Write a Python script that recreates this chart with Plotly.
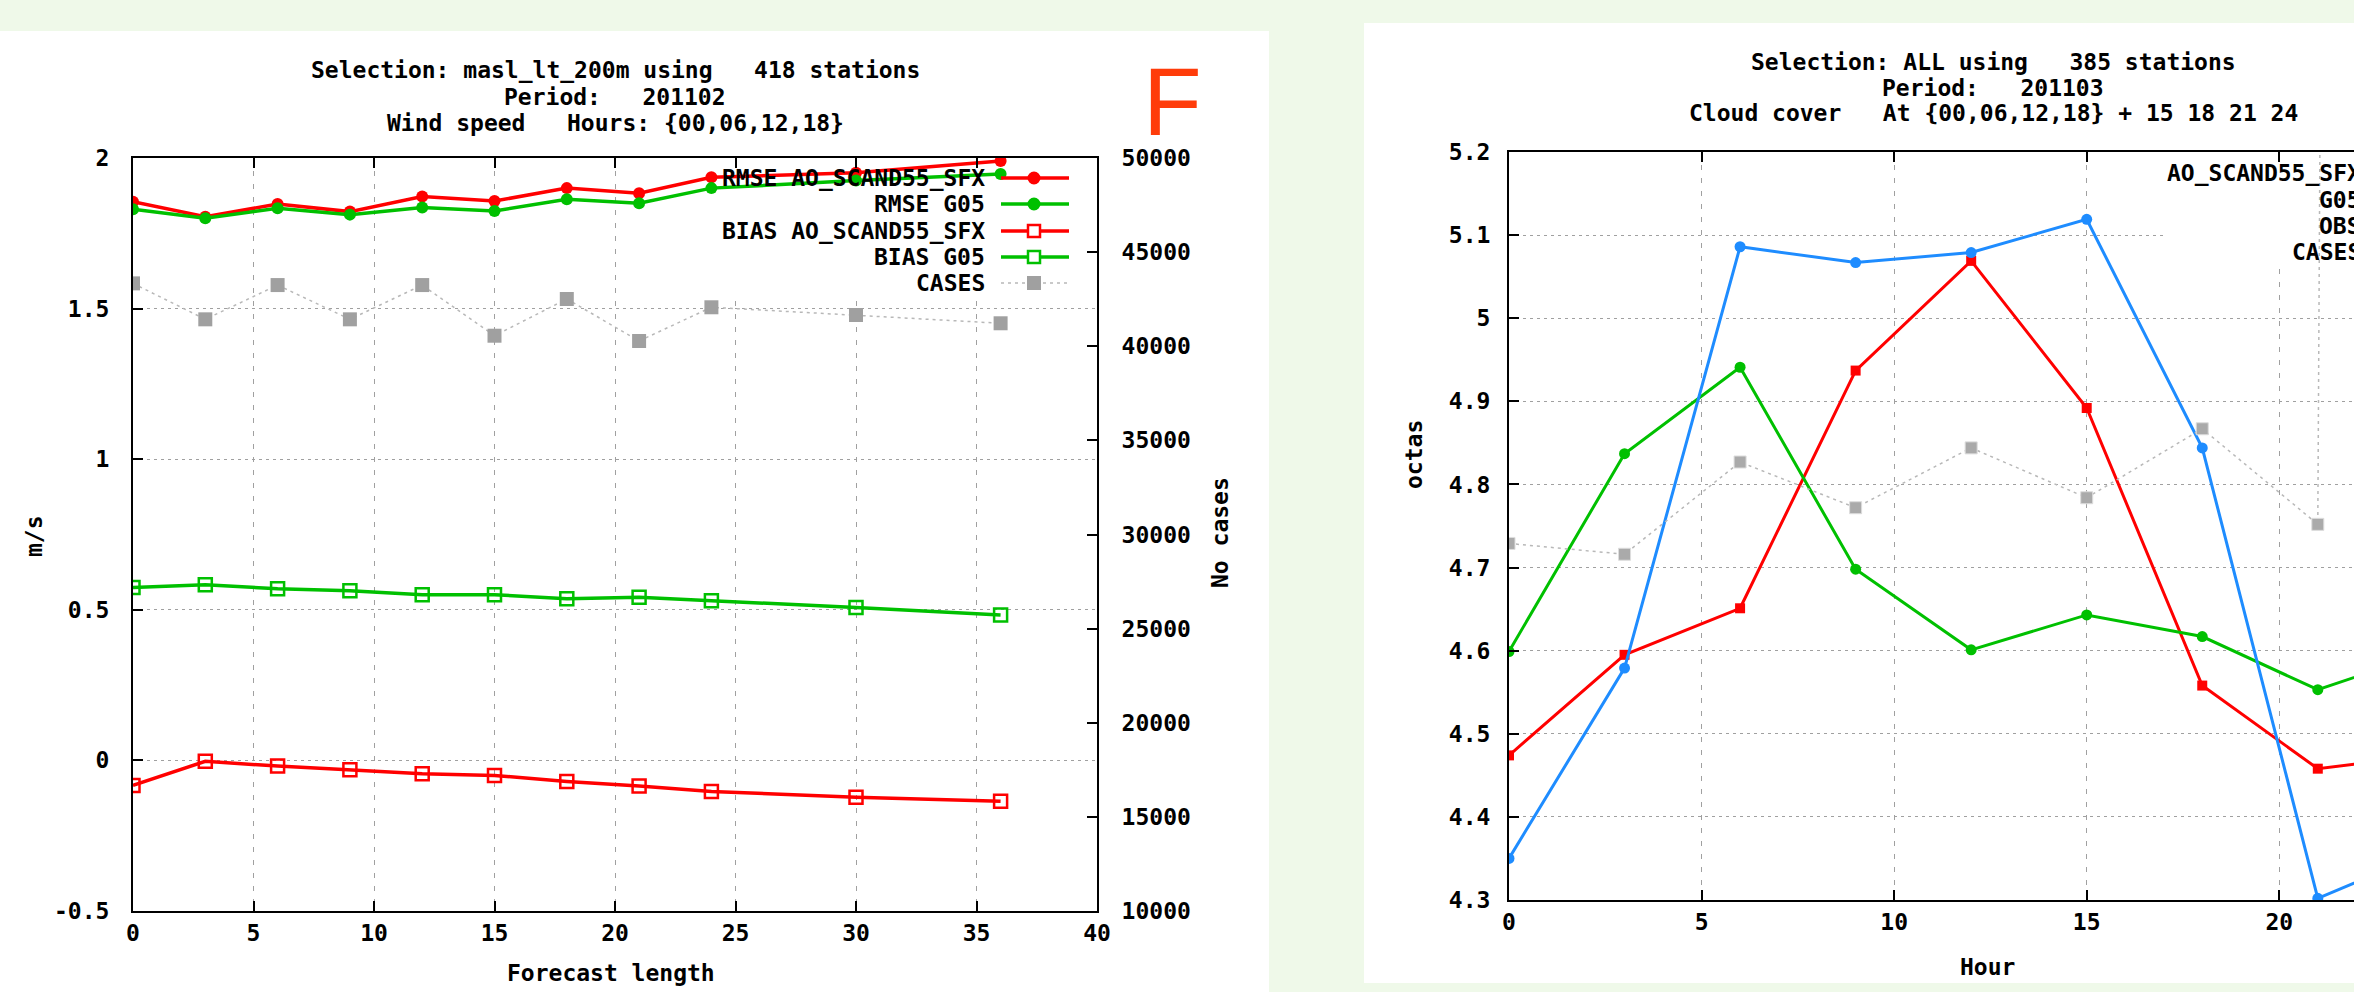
import plotly.graph_objects as go

# ---------------- data: left chart (wind speed vs forecast length) ----------------
lead = [0, 3, 6, 9, 12, 15, 18, 21, 24, 30, 36]
rmse_ao = [1.855, 1.805, 1.847, 1.822, 1.872, 1.857, 1.900, 1.883, 1.936, 1.951, 1.990]
rmse_g05 = [1.830, 1.800, 1.833, 1.812, 1.836, 1.824, 1.863, 1.850, 1.900, 1.925, 1.947]
bias_ao = [-0.083, -0.003, -0.019, -0.031, -0.044, -0.050, -0.070, -0.085, -0.103, -0.122, -0.136]
bias_g05 = [0.574, 0.583, 0.570, 0.563, 0.550, 0.550, 0.537, 0.542, 0.530, 0.508, 0.483]
cases_left = [43340, 41430, 43250, 41430, 43250, 40560, 42510, 40280, 42070, 41660, 41220]

left_names = ["RMSE AO_SCAND55_SFX", "RMSE G05", "BIAS AO_SCAND55_SFX", "BIAS G05", "CASES"]
left_title = ["Selection: masl_lt_200m using   418 stations",
              "Period:   201102",
              "Wind speed   Hours: {00,06,12,18}"]
left_xticks = [0, 5, 10, 15, 20, 25, 30, 35, 40]
left_yticks = [-0.5, 0, 0.5, 1, 1.5, 2]
left_yticklabels = ["-0.5", "0", "0.5", "1", "1.5", "2"]
left_y2ticks = [10000, 15000, 20000, 25000, 30000, 35000, 40000, 45000, 50000]

# ---------------- data: right chart (cloud cover vs hour) ----------------
hour = [0, 3, 6, 9, 12, 15, 18, 21, 24]
cc_ao = [4.474, 4.595, 4.651, 4.937, 5.069, 4.892, 4.558, 4.458, 4.475]
cc_g05 = [4.599, 4.837, 4.941, 4.698, 4.601, 4.643, 4.617, 4.553, 4.600]
cc_obs = [4.350, 4.579, 5.086, 5.067, 5.079, 5.119, 4.844, 4.302, 4.360]
cases_right = [9290, 9160, 10270, 9720, 10440, 9840, 10670, 9520, 260000]

right_names = ["AO_SCAND55_SFX", "G05", "OBS", "CASES"]
right_title = ["Selection: ALL using   385 stations",
               "Period:   201103",
               "Cloud cover   At {00,06,12,18} + 15 18 21 24"]
right_xticks = [0, 5, 10, 15, 20, 25]
right_yticks = [4.3, 4.4, 4.5, 4.6, 4.7, 4.8, 4.9, 5.0, 5.1, 5.2]
right_yticklabels = ["4.3", "4.4", "4.5", "4.6", "4.7", "4.8", "4.9", "5", "5.1", "5.2"]

# ---------------- styling ----------------
W, H = 2354, 992
BG = "#EFF9E9"
RED = "#FF0000"
GREEN = "#00C000"
BLUE = "#1E8CFF"
GRAY = "#A0A0A0"
GRID = "#A0A0A0"
FONT = "DejaVu Sans Mono"
FS = 23


def px(x):
    return x / W


def py(y):
    return 1 - y / H


fig = go.Figure()

# left chart traces
fig.add_trace(go.Scatter(x=lead, y=rmse_ao, mode="lines+markers", name=left_names[0],
                         line=dict(color=RED, width=3.5),
                         marker=dict(symbol="circle", size=12, color=RED),
                         xaxis="x", yaxis="y"))
fig.add_trace(go.Scatter(x=lead, y=rmse_g05, mode="lines+markers", name=left_names[1],
                         line=dict(color=GREEN, width=3.5),
                         marker=dict(symbol="circle", size=12, color=GREEN),
                         xaxis="x", yaxis="y"))
fig.add_trace(go.Scatter(x=lead, y=bias_ao, mode="lines+markers", name=left_names[2],
                         line=dict(color=RED, width=3.5),
                         marker=dict(symbol="square-open", size=13, color=RED, line=dict(width=2.5)),
                         xaxis="x", yaxis="y"))
fig.add_trace(go.Scatter(x=lead, y=bias_g05, mode="lines+markers", name=left_names[3],
                         line=dict(color=GREEN, width=3.5),
                         marker=dict(symbol="square-open", size=13, color=GREEN, line=dict(width=2.5)),
                         xaxis="x", yaxis="y"))
fig.add_trace(go.Scatter(x=lead, y=cases_left, mode="lines+markers", name=left_names[4],
                         line=dict(color="#B8B8B8", width=1.5, dash="3px,4px"),
                         marker=dict(symbol="square", size=14, color=GRAY),
                         xaxis="x", yaxis="y2"))

# right chart traces
fig.add_trace(go.Scatter(x=hour, y=cc_ao, mode="lines+markers", name=right_names[0],
                         line=dict(color=RED, width=3),
                         marker=dict(symbol="square", size=10, color=RED),
                         xaxis="x2", yaxis="y3"))
fig.add_trace(go.Scatter(x=hour, y=cc_g05, mode="lines+markers", name=right_names[1],
                         line=dict(color=GREEN, width=3),
                         marker=dict(symbol="circle", size=11, color=GREEN),
                         xaxis="x2", yaxis="y3"))
fig.add_trace(go.Scatter(x=hour, y=cc_obs, mode="lines+markers", name=right_names[2],
                         line=dict(color=BLUE, width=3),
                         marker=dict(symbol="circle", size=11, color=BLUE),
                         xaxis="x2", yaxis="y3"))
fig.add_trace(go.Scatter(x=hour, y=cases_right, mode="lines+markers", name=right_names[3],
                         line=dict(color="#B8B8B8", width=1.5, dash="3px,4px"),
                         marker=dict(symbol="square", size=12, color="#AAAAAA",
                                     line=dict(color="#DDDDDD", width=1)),
                         xaxis="x2", yaxis="y4"))

tickfont = dict(family=FONT, size=FS, color="black", weight="bold")
axis_common = dict(showline=True, linecolor="black", linewidth=2, ticks="inside",
                   ticklen=10, tickwidth=1.5, tickcolor="black", zeroline=False,
                   tickfont=tickfont)

fig.update_layout(
    width=W, height=H,
    margin=dict(l=0, r=0, t=0, b=0, pad=0, autoexpand=False),
    paper_bgcolor=BG, plot_bgcolor="white",
    showlegend=False,
    xaxis=dict(domain=[px(133), px(1097)], range=[0, 40], tickvals=left_xticks,
               mirror="ticks", showgrid=True, gridcolor=GRID, gridwidth=1, griddash="5px,8px",
               anchor="y", ticklabelstandoff=0, **axis_common),
    yaxis=dict(domain=[py(911), py(158)], range=[-0.5, 2], tickvals=left_yticks,
               ticktext=left_yticklabels, showgrid=True, gridcolor=GRID, gridwidth=1,
               griddash="3px,4px", anchor="x", ticklabelstandoff=17, **axis_common),
    yaxis2=dict(overlaying="y", side="right", anchor="x", range=[10000, 50000],
                tickvals=left_y2ticks, tickformat="d", showgrid=False, ticklabelstandoff=18,
                **axis_common),
    xaxis2=dict(domain=[px(1509), 1], range=[0, 21.94], tickvals=right_xticks,
                mirror="ticks", showgrid=True, gridcolor=GRID, gridwidth=1, griddash="5px,8px",
                anchor="y3", ticklabelstandoff=0, **axis_common),
    yaxis3=dict(domain=[py(900), py(152)], range=[4.3, 5.2], tickvals=right_yticks,
                ticktext=right_yticklabels, showgrid=True, gridcolor=GRID, gridwidth=1,
                griddash="3px,4px", anchor="x2", ticklabelstandoff=12, **axis_common),
    yaxis4=dict(overlaying="y3", anchor="x2", range=[5000, 14000], visible=False),
)

shapes = []
# white panels
shapes.append(dict(type="rect", xref="paper", yref="paper", x0=0, x1=px(1269), y0=0, y1=py(31),
                   fillcolor="white", line=dict(width=0), layer="below"))
shapes.append(dict(type="rect", xref="paper", yref="paper", x0=px(1364), x1=1, y0=py(983), y1=py(23),
                   fillcolor="white", line=dict(width=0), layer="below"))
# opaque key areas (hide the grid behind the keys), in each subplot's own axes
shapes.append(dict(type="rect", xref="x", yref="y", x0=24.0, x1=39.9,
                   y0=2 - (297 - 158) / 301.2, y1=1.995,
                   fillcolor="white", line=dict(width=0), layer="between"))
shapes.append(dict(type="rect", xref="x2", yref="y3", x0=17.06, x1=21.94,
                   y0=5.2 - (262 - 152) / 831, y1=5.198,
                   fillcolor="white", line=dict(width=0), layer="between"))

# left key samples
key_rows = [178, 204, 231, 257, 283]
key_colors = [RED, GREEN, RED, GREEN, GRAY]
for i, yy in enumerate(key_rows):
    if i < 4:
        shapes.append(dict(type="line", xref="paper", yref="paper", x0=px(1001), x1=px(1069),
                           y0=py(yy), y1=py(yy), line=dict(color=key_colors[i], width=3.5), layer="above"))
    else:
        shapes.append(dict(type="line", xref="paper", yref="paper", x0=px(1001), x1=px(1069),
                           y0=py(yy), y1=py(yy), line=dict(color="#B8B8B8", width=1.5, dash="3px,4px"),
                           layer="above"))
    c = 1034
    if i < 2:
        shapes.append(dict(type="circle", xref="paper", yref="paper", x0=px(c - 6.5), x1=px(c + 6.5),
                           y0=py(yy + 6.5), y1=py(yy - 6.5), fillcolor=key_colors[i],
                           line=dict(width=0), layer="above"))
    elif i < 4:
        shapes.append(dict(type="rect", xref="paper", yref="paper", x0=px(c - 6), x1=px(c + 6),
                           y0=py(yy + 6), y1=py(yy - 6), fillcolor="white",
                           line=dict(color=key_colors[i], width=2.5), layer="above"))
    else:
        shapes.append(dict(type="rect", xref="paper", yref="paper", x0=px(c - 7), x1=px(c + 7),
                           y0=py(yy + 7), y1=py(yy - 7), fillcolor=GRAY,
                           line=dict(width=0), layer="above"))

annotations = []


def text(t, x, y, xanchor="center", angle=0, size=FS, family=FONT, color="black", weight="bold"):
    annotations.append(dict(text=t, x=px(x), y=py(y), xref="paper", yref="paper",
                            xanchor=xanchor, yanchor="middle", showarrow=False,
                            textangle=angle,
                            font=dict(family=family, size=size, color=color, weight=weight)))


# titles
for t, yy in zip(left_title, [70, 97, 123]):
    text(t, 615, yy)
for t, yy in zip(right_title, [62, 88, 113]):
    text(t, 1993, yy)

# key texts
for t, yy in zip(left_names, key_rows):
    text(t, 987, yy, xanchor="right")
for t, yy in zip(right_names, [173, 200, 226, 252]):
    text(t, 2363, yy, xanchor="right")

# axis titles
text("m/s", 34, 536, angle=-90)
text("No cases", 1220, 533, angle=-90)
text("Forecast length", 611, 973)
text("octas", 1414, 455, angle=-90)
text("Hour", 1987, 967)

# panel letter
text("F", 1141, 101, xanchor="left", size=96, family="Liberation Sans", color="#FF3C0A",
     weight="normal")

fig.update_layout(shapes=shapes, annotations=annotations)

fig.write_html("out.html", config={"displayModeBar": False},
               post_script="document.body.style.margin='0';document.body.style.overflow='hidden';")
